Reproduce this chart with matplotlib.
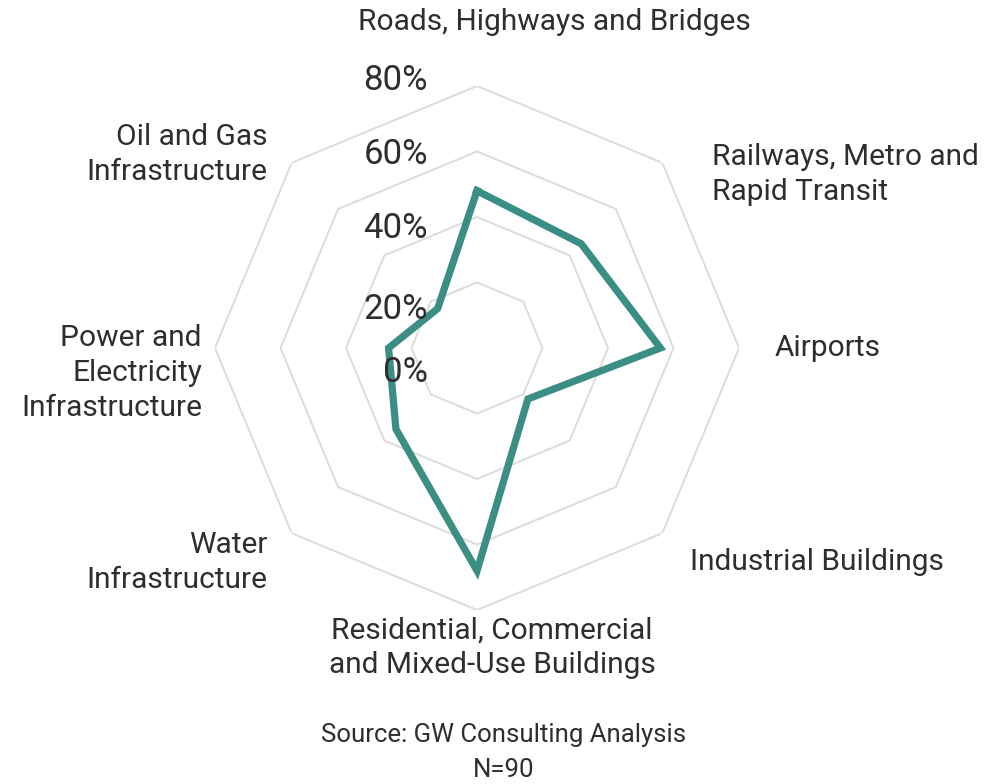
import numpy as np
import matplotlib
matplotlib.use("Agg")
import matplotlib.pyplot as plt

# ------------------------------------------------------------
# DADOS
# ------------------------------------------------------------
categories = [
    "Roads, Highways and Bridges",
    "Railways, Metro and\nRapid Transit",
    "Airports",
    "Industrial Buildings",
    "Residential, Commercial\nand Mixed-Use Buildings",
    "Water\nInfrastructure",
    "Power and\nElectricity\nInfrastructure",
    "Oil and Gas\nInfrastructure",
]
values = [48, 45, 56, 22, 68, 35, 27, 17]
ring_values = [20, 40, 60, 80]
tick_values = [0, 20, 40, 60, 80]
tick_labels = ["0%", "20%", "40%", "60%", "80%"]

source_text = "Source: GW Consulting Analysis"
n_text = "N=90"

# ------------------------------------------------------------
# ESTILO / LAYOUT
# ------------------------------------------------------------
plt.rcParams["font.family"] = ["Roboto", "DejaVu Sans"]
TEXT_COLOR = "#2e2e2e"
LINE_COLOR = "#3a8e83"
GRID_COLOR = "#dcdcdc"

W, H = 984, 784
CX, CY, R = 477, 348, 262  # centro e raio do anel de 80% (pixels)

# deslocamento (pixels) de cada rótulo em relação ao vértice externo
label_offsets = [(77, 64), (50, -12), (36, 0), (28, -29),
                 (15, -38), (-24, -29), (-13, -25), (-24, 8)]
label_ha = ["center", "left", "left", "left",
            "center", "right", "right", "right"]
tick_dy = [-25, -27, -11, -3, 6]

fig = plt.figure(figsize=(W / 100, H / 100), dpi=100)
ax = fig.add_axes(
    [(CX - R) / W, (H - CY - R) / H, 2 * R / W, 2 * R / H],
    projection="polar"
)
ax.set_theta_offset(np.pi / 2)
ax.set_theta_direction(-1)
ax.set_ylim(0, 80)
ax.grid(False)
ax.set_xticks([])
ax.set_yticks([])
ax.spines["polar"].set_visible(False)
ax.patch.set_visible(False)

n = len(categories)
angles = np.linspace(0, 2 * np.pi, n, endpoint=False)
closed = np.append(angles, angles[0])

# anéis octogonais
for v in ring_values:
    ax.plot(closed, [v] * (n + 1), color=GRID_COLOR, lw=1.4, zorder=1)

# série
ax.plot(closed, values + values[:1], color=LINE_COLOR, lw=5.2,
        solid_joinstyle="miter", zorder=3)

# rótulos das categorias
for ang, lab, (dx, dy), ha in zip(angles, categories, label_offsets, label_ha):
    ax.annotate(lab, xy=(ang, 80), xytext=(dx, dy), textcoords="offset pixels",
                ha=ha, va="center", fontsize=21.5, color=TEXT_COLOR,
                linespacing=1.3, multialignment=ha,
                annotation_clip=False)

# rótulos do eixo radial
for v, t, dy in zip(tick_values, tick_labels, tick_dy):
    ax.annotate(t, xy=(0, v), xytext=(-49, dy),
                textcoords="offset pixels", ha="right", va="center",
                fontsize=25, color=TEXT_COLOR, zorder=4, annotation_clip=False)

# fonte
fig.text(504 / W, 1 - 735 / H, source_text, ha="center", va="center",
         fontsize=18.5, color=TEXT_COLOR)
fig.text(504 / W, 1 - 770 / H, n_text, ha="center", va="center",
         fontsize=18.5, color=TEXT_COLOR)

fig.savefig("out.png", dpi=100, facecolor="white")
